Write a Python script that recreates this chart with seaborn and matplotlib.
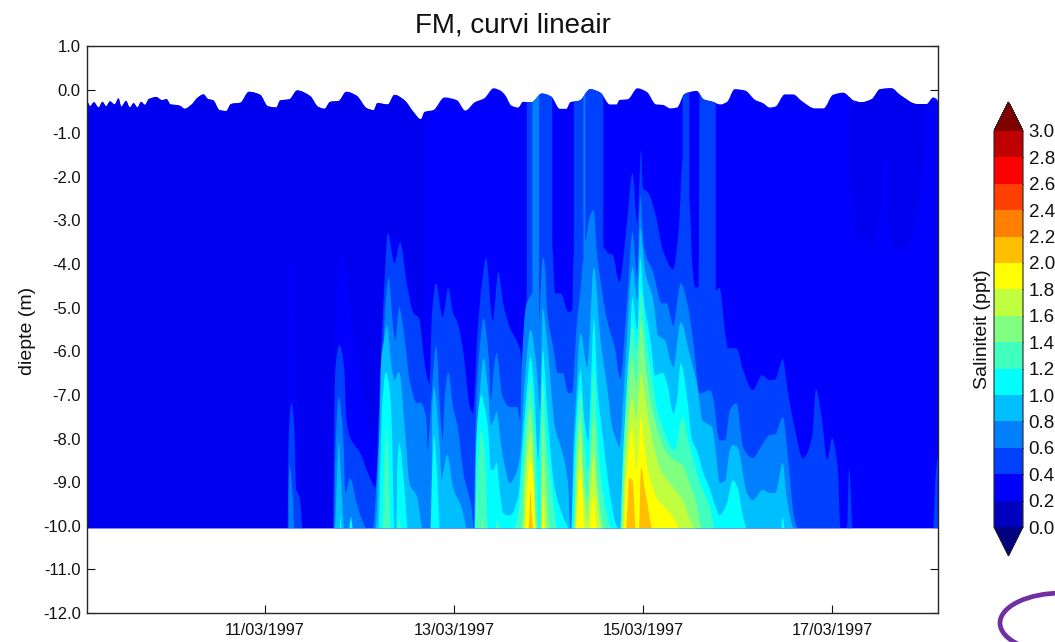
import matplotlib
matplotlib.use("Agg")
import matplotlib.pyplot as plt
from matplotlib.colors import ListedColormap, BoundaryNorm
from matplotlib.colorbar import ColorbarBase
from matplotlib.patches import PathPatch, Ellipse
from matplotlib.path import Path
import seaborn as sns

TITLE = "FM, curvi lineair"
YLABEL = "diepte (m)"
CBLABEL = "Saliniteit (ppt)"
XTICKS = [11, 13, 15, 17]
XLABELS = ["11/03/1997", "13/03/1997", "15/03/1997", "17/03/1997"]
YTICKS = [1, 0, -1, -2, -3, -4, -5, -6, -7, -8, -9, -10, -11, -12]
LEVELS = [0.0, 0.2, 0.4, 0.6, 0.8, 1.0, 1.2, 1.4, 1.6, 1.8, 2.0, 2.2, 2.4, 2.6, 2.8, 3.0]
COLORS = ["#0000BF", "#0000FF", "#0040FF", "#0080FF", "#00BFFF", "#00FFFF", "#40FFBF", "#80FF80",
          "#BFFF40", "#FFFF00", "#FFBF00", "#FF8000", "#FF4000", "#FF0000", "#BF0000"]
UNDER = "#000080"
OVER = "#800000"
BOTTOM = -10.06

surf_t = [9.10, 9.12, 9.15, 9.19, 9.24, 9.28, 9.32, 9.36, 9.41, 9.45, 9.48, 9.53, 9.57, 9.61, 9.65, 9.69, 9.73, 9.77,
          9.85, 9.91, 9.96, 10.00, 10.05, 10.10, 10.15, 10.22, 10.29, 10.35, 10.40, 10.45, 10.52, 10.59, 10.64, 10.74,
          10.83, 10.95, 11.03, 11.12, 11.16, 11.26, 11.34, 11.48, 11.56, 11.63, 11.69, 11.78, 11.86, 11.97, 12.08,
          12.15, 12.19, 12.30, 12.37, 12.48, 12.57, 12.65, 12.69, 12.78, 12.90, 13.03, 13.12, 13.22, 13.32, 13.42,
          13.49, 13.54, 13.61, 13.68, 13.73, 13.82, 13.93, 14.03, 14.12, 14.19, 14.23, 14.33, 14.44, 14.55, 14.65,
          14.72, 14.75, 14.84, 14.94, 15.04, 15.14, 15.21, 15.29, 15.36, 15.44, 15.57, 15.64, 15.74, 15.82, 15.89,
          15.97, 16.08, 16.19, 16.27, 16.34, 16.40, 16.50, 16.59, 16.68, 16.82, 16.91, 17.01, 17.12, 17.23, 17.31,
          17.42, 17.51, 17.63, 17.72, 17.90, 18.00, 18.07, 18.11, 18.13]
surf_d = [-0.35, -0.28, -0.38, -0.29, -0.41, -0.28, -0.38, -0.27, -0.34, -0.20, -0.39, -0.26, -0.41, -0.31, -0.41,
          -0.28, -0.35, -0.22, -0.17, -0.24, -0.22, -0.34, -0.35, -0.37, -0.44, -0.35, -0.18, -0.11, -0.22, -0.24,
          -0.47, -0.49, -0.33, -0.30, -0.05, -0.12, -0.38, -0.41, -0.25, -0.22, -0.02, -0.15, -0.39, -0.44, -0.28,
          -0.26, -0.05, -0.14, -0.43, -0.47, -0.31, -0.34, -0.12, -0.25, -0.51, -0.68, -0.51, -0.47, -0.18, -0.24,
          -0.48, -0.29, -0.20, 0.03, -0.02, -0.12, -0.37, -0.41, -0.28, -0.29, -0.09, -0.16, -0.44, -0.44, -0.29,
          -0.25, 0.01, -0.07, -0.34, -0.34, -0.24, -0.22, 0.03, -0.05, -0.34, -0.35, -0.43, -0.41, -0.10, -0.03,
          -0.22, -0.28, -0.34, -0.28, 0.01, -0.02, -0.24, -0.31, -0.41, -0.39, -0.11, -0.11, -0.26, -0.43, -0.43,
          -0.12, -0.07, -0.25, -0.29, -0.22, 0.01, 0.03, -0.12, -0.33, -0.33, -0.18, -0.22, -0.30]

fresh_t = [9.10, 11.24, 11.25, 11.30, 11.37, 11.72, 11.75, 11.81, 11.93, 12.05, 12.17, 12.26, 12.30, 12.43, 12.60,
           12.68, 12.69, 17.18, 17.18, 17.19, 17.27, 17.33, 17.39, 17.53, 17.55, 17.56, 17.61, 17.72, 17.83, 17.93,
           18.00, 18.01, 18.13]
fresh_d = [-10.06, -10.06, -3.91, -3.91, -10.06, -10.06, -4.83, -3.68, -5.51, -7.12, -8.20, -4.60, -3.29, -3.50, -5.20,
           -6.00, 1.20, 1.20, -2.50, -2.15, -3.60, -3.38, -3.60, -2.46, -0.93, -0.77, -3.38, -3.72, -3.45, -2.53,
           -0.47, 1.20, 1.20]

l04_t = [11.24, 11.25, 11.28, 11.31, 11.33, 11.35, 11.37, 11.40, 11.72, 11.74, 11.76, 11.79, 11.84, 11.86, 11.90, 12.01,
         12.11, 12.17, 12.21, 12.26, 12.30, 12.37, 12.43, 12.50, 12.57, 12.63, 12.69, 12.74, 12.77, 12.81, 12.88, 12.94,
         12.99, 13.04, 13.10, 13.17, 13.20, 13.25, 13.30, 13.34, 13.41, 13.47, 13.52, 13.59, 13.70, 13.73, 13.77, 13.77,
         14.04, 14.04, 14.07, 14.13, 14.21, 14.25, 14.27, 14.27, 14.58, 14.58, 14.63, 14.68, 14.75, 14.83, 14.89, 14.94,
         14.98, 15.00, 15.05, 15.13, 15.21, 15.32, 15.38, 15.42, 15.42, 15.49, 15.49, 15.52, 15.55, 15.59, 15.60, 15.77,
         15.77, 15.81, 15.87, 15.90, 15.99, 16.06, 16.16, 16.26, 16.34, 16.40, 16.48, 16.53, 16.61, 16.69, 16.79, 16.83,
         16.89, 16.95, 17.00, 17.06, 17.09, 17.16, 17.18, 17.22, 18.07, 18.10, 18.13]
l04_d = [-10.06, -8.04, -7.19, -7.69, -9.18, -9.25, -9.41, -10.06, -10.06, -6.66, -6.09, -5.86, -6.43, -7.51, -7.97, -8.34,
         -8.89, -9.12, -7.12, -4.60, -3.29, -3.98, -3.50, -4.44, -5.12, -5.24, -6.27, -6.73, -5.06, -4.44, -5.22, -4.55,
         -5.12, -5.36, -6.04, -7.28, -7.42, -5.52, -4.37, -3.86, -5.29, -4.18, -4.90, -5.45, -5.97, -6.50, -4.83, 1.20,
         1.20, -3.61, -4.67, -4.67, -5.10, -5.06, -3.68, 1.20, 1.20, -3.61, -3.75, -3.79, -4.41, -3.06, -1.91, -3.06,
         -1.39, -2.26, -2.35, -2.83, -3.68, -4.12, -3.15, -1.61, 1.20, 1.20, -2.53, -3.91, -4.53, -4.53, 1.20, 1.20,
         -4.60, -4.55, -5.58, -5.93, -5.93, -6.43, -6.89, -6.55, -6.66, -6.64, -6.18, -6.89, -7.81, -8.45, -7.97, -6.87,
         -7.51, -8.49, -7.99, -8.66, -10.06, -10.06, -8.66, -10.06, -10.06, -8.73, -8.38]

l06_t = [11.25, 11.25, 11.26, 11.29, 11.31, 11.73, 11.74, 11.78, 11.83, 11.85, 11.90, 11.98, 12.08, 12.14, 12.20, 12.24,
         12.27, 12.31, 12.35, 12.38, 12.42, 12.48, 12.53, 12.61, 12.64, 12.71, 12.72, 12.76, 12.79, 12.81, 12.86, 12.88,
         12.90, 12.94, 12.99, 13.04, 13.10, 13.19, 13.21, 13.23, 13.24, 13.28, 13.31, 13.37, 13.39, 13.42, 13.45, 13.51,
         13.56, 13.59, 13.67, 13.70, 13.72, 13.76, 13.80, 13.83, 13.83, 13.90, 13.90, 13.93, 13.94, 13.97, 13.98, 14.05,
         14.10, 14.15, 14.21, 14.25, 14.30, 14.34, 14.37, 14.37, 14.39, 14.39, 14.44, 14.48, 14.51, 14.55, 14.62, 14.67,
         14.70, 14.76, 14.83, 14.89, 14.94, 14.97, 15.01, 15.11, 15.20, 15.25, 15.32, 15.40, 15.47, 15.53, 15.60, 15.71,
         15.74, 15.81, 15.87, 15.92, 15.99, 16.06, 16.16, 16.27, 16.34, 16.40, 16.48, 16.53, 16.60, 16.64]
l06_d = [-10.06, -9.18, -8.61, -9.18, -10.06, -10.06, -8.72, -7.05, -8.03, -9.25, -8.91, -9.57, -10.06, -10.06, -8.27, -6.96,
         -5.06, -4.32, -5.29, -5.74, -4.99, -5.74, -6.66, -7.19, -7.17, -7.58, -8.27, -7.12, -6.20, -5.86, -7.58, -8.03,
         -7.12, -6.48, -7.28, -7.74, -8.79, -9.64, -10.06, -7.58, -6.89, -5.74, -5.24, -6.20, -7.12, -6.43, -6.04, -7.00,
         -7.23, -7.28, -7.28, -7.58, -6.20, -4.99, -4.76, -4.67, 1.20, 1.20, -5.29, -4.07, -3.84, -4.21, -4.90, -5.90,
         -6.50, -6.50, -6.96, -6.96, -5.36, -4.60, -3.91, 1.20, 1.20, -3.45, -2.88, -2.76, -3.68, -4.37, -5.29, -5.67,
         -5.90, -6.62, -4.90, -3.27, -4.30, -2.42, -3.61, -4.21, -4.90, -4.90, -5.40, -4.44, -4.90, -5.74, -6.96, -6.89,
         -7.05, -8.04, -8.04, -7.35, -7.19, -8.20, -8.45, -8.11, -7.92, -7.90, -7.51, -8.34, -9.80, -10.06]

l08_t = [11.74, 11.76, 11.78, 11.80, 11.84, 12.17, 12.21, 12.23, 12.26, 12.29, 12.34, 12.37, 12.42, 12.48, 12.53, 12.61,
         12.67, 12.76, 12.77, 12.79, 12.85, 12.87, 12.89, 12.93, 12.99, 13.08, 13.14, 13.22, 13.24, 13.28, 13.31, 13.36,
         13.39, 13.42, 13.45, 13.50, 13.54, 13.59, 13.65, 13.70, 13.75, 13.81, 13.88, 13.91, 13.94, 13.99, 14.07, 14.15,
         14.21, 14.23, 14.25, 14.26, 14.29, 14.34, 14.41, 14.48, 14.55, 14.63, 14.67, 14.72, 14.75, 14.81, 14.89, 14.94,
         14.97, 15.02, 15.11, 15.16, 15.23, 15.32, 15.40, 15.50, 15.57, 15.63, 15.73, 15.78, 15.81, 15.87, 15.92, 15.95,
         16.00, 16.10, 16.16, 16.27, 16.34, 16.40, 16.48, 16.52, 16.60]
l08_d = [-10.06, -8.96, -8.08, -8.72, -10.06, -10.06, -7.81, -6.20, -5.74, -5.40, -6.36, -6.66, -6.48, -7.74, -9.02, -9.34,
         -10.06, -10.06, -7.35, -6.82, -8.20, -8.96, -8.72, -8.38, -9.12, -9.58, -10.06, -10.06, -8.04, -6.77, -6.16, -6.89,
         -7.69, -7.58, -7.39, -8.15, -8.66, -9.02, -8.84, -8.38, -6.66, -5.51, -6.50, -7.35, -5.01, -5.90, -7.74, -8.34,
         -9.12, -10.04, -10.06, -8.50, -7.12, -5.58, -6.36, -4.07, -5.74, -6.96, -7.69, -8.04, -8.20, -6.43, -4.07, -4.83,
         -3.17, -4.14, -4.83, -5.63, -5.74, -6.36, -5.33, -6.13, -6.73, -7.58, -7.74, -8.49, -9.02, -8.96, -8.27, -8.15,
         -8.20, -9.25, -9.41, -9.18, -9.25, -9.25, -8.56, -9.34, -10.06]

l10_t = [11.79, 11.80, 11.81, 11.89, 11.91, 11.93, 12.20, 12.22, 12.24, 12.28, 12.32, 12.34, 12.37, 12.39, 12.40, 12.42,
         12.48, 12.51, 12.75, 12.77, 12.79, 12.82, 12.85, 13.22, 13.23, 13.25, 13.29, 13.33, 13.36, 13.39, 13.42, 13.45,
         13.49, 13.52, 13.59, 13.68, 13.72, 13.76, 13.81, 13.85, 13.89, 13.91, 13.94, 13.98, 14.03, 14.07, 14.13, 14.17,
         14.22, 14.24, 14.26, 14.29, 14.34, 14.38, 14.42, 14.45, 14.48, 14.52, 14.58, 14.63, 14.67, 14.72, 14.75, 14.76,
         14.79, 14.84, 14.89, 14.94, 14.97, 15.01, 15.08, 15.13, 15.21, 15.26, 15.32, 15.36, 15.40, 15.47, 15.52, 15.57,
         15.63, 15.71, 15.78, 15.81, 15.89, 15.95, 16.00, 16.06, 16.10, 16.46, 16.48, 16.50]
l10_d = [-10.06, -9.76, -10.06, -10.06, -9.80, -10.06, -10.06, -8.66, -7.28, -6.48, -6.89, -7.58, -10.06, -10.06, -8.72, -8.11,
         -9.25, -10.06, -10.06, -8.72, -7.93, -8.72, -10.06, -10.06, -8.50, -7.58, -7.00, -7.35, -7.74, -8.72, -8.72, -8.56,
         -9.30, -9.71, -9.76, -9.34, -8.27, -7.19, -6.13, -6.89, -8.50, -7.81, -5.97, -7.12, -8.50, -9.18, -9.64, -9.87,
         -10.06, -10.06, -8.96, -7.58, -6.43, -7.58, -8.04, -6.66, -5.24, -6.89, -8.04, -8.96, -9.53, -9.99, -10.06, -10.06,
         -8.27, -6.89, -4.76, -5.51, -3.84, -4.83, -5.74, -6.55, -6.50, -6.77, -7.42, -7.12, -6.27, -7.12, -8.04, -8.27,
         -8.73, -9.18, -9.64, -9.76, -9.48, -8.96, -9.12, -9.80, -10.06, -10.06, -9.80, -10.06]

l12_t = [12.24, 12.26, 12.29, 12.31, 12.33, 12.40, 12.42, 12.44, 13.22, 13.25, 13.29, 13.33, 13.36, 13.44, 13.45, 13.49,
         13.64, 13.68, 13.73, 13.77, 13.81, 13.85, 13.89, 13.90, 13.91, 13.92, 13.94, 13.98, 14.04, 14.09, 14.26, 14.29,
         14.34, 14.38, 14.42, 14.45, 14.48, 14.51, 14.56, 14.61, 14.67, 14.76, 14.78, 14.82, 14.86, 14.89, 14.93, 14.95,
         14.98, 15.02, 15.10, 15.15, 15.20, 15.26, 15.33, 15.42, 15.48, 15.50, 15.60, 15.71, 15.76]
l12_d = [-10.06, -8.72, -7.74, -8.72, -10.06, -10.06, -9.83, -10.06, -10.06, -8.72, -7.81, -8.50, -10.06, -10.06, -9.87, -10.06,
         -10.06, -9.71, -8.49, -7.35, -6.66, -7.58, -9.41, -10.06, -10.06, -7.81, -6.66, -8.04, -9.18, -10.06, -10.06, -8.27,
         -6.89, -8.04, -8.73, -7.58, -6.39, -7.58, -8.96, -9.64, -10.06, -10.06, -8.96, -7.12, -5.86, -5.35, -5.97, -5.51,
         -4.60, -5.51, -6.66, -7.35, -7.69, -8.04, -8.27, -7.51, -8.04, -8.20, -9.00, -9.57, -10.06]

l14_t = [13.29, 13.30, 13.32, 13.72, 13.75, 13.78, 13.81, 13.84, 13.88, 13.92, 13.93, 13.94, 13.97, 14.02, 14.27, 14.30,
         14.34, 14.37, 14.41, 14.45, 14.48, 14.51, 14.55, 14.59, 14.77, 14.79, 14.84, 14.89, 14.93, 14.95, 14.98, 15.02,
         15.10, 15.19, 15.26, 15.34, 15.42, 15.50, 15.57, 15.62]
l14_d = [-10.06, -9.83, -10.06, -10.06, -8.50, -7.69, -7.28, -8.04, -10.06, -10.06, -8.50, -7.51, -8.73, -10.06, -10.06, -8.27,
         -7.42, -8.73, -9.41, -8.27, -7.51, -8.73, -9.64, -10.06, -10.06, -8.96, -7.12, -6.13, -6.77, -6.20, -5.29, -6.20,
         -7.35, -8.04, -8.34, -8.50, -8.61, -9.06, -9.53, -10.06]

l16_t = [13.73, 13.76, 13.79, 13.81, 13.84, 13.87, 13.93, 13.94, 13.96, 13.98, 14.28, 14.31, 14.34, 14.37, 14.41, 14.44,
         14.48, 14.51, 14.56, 14.78, 14.81, 14.85, 14.89, 14.93, 14.95, 14.98, 15.02, 15.10, 15.19, 15.26, 15.34, 15.42,
         15.50, 15.55]
l16_d = [-10.06, -8.73, -8.15, -7.81, -8.73, -10.06, -10.06, -8.34, -9.18, -10.06, -10.06, -8.73, -7.88, -9.18, -9.87, -9.18,
         -8.38, -9.18, -10.06, -10.06, -8.73, -7.58, -7.05, -7.58, -7.12, -6.50, -7.00, -8.04, -8.73, -8.96, -9.18, -9.41,
         -9.87, -10.06]

l18_t = [13.75, 13.77, 13.81, 13.84, 13.86, 13.93, 13.94, 13.96, 14.29, 14.31, 14.33, 14.36, 14.38, 14.43, 14.46, 14.48,
         14.51, 14.79, 14.82, 14.85, 14.89, 14.93, 14.95, 14.98, 15.02, 15.08, 15.16, 15.26, 15.34, 15.39]
l18_d = [-10.06, -9.18, -8.43, -8.96, -10.06, -10.06, -9.25, -10.06, -10.06, -9.18, -8.66, -9.18, -10.06, -10.06, -9.41, -9.30,
         -10.06, -10.06, -8.96, -8.27, -7.76, -8.73, -8.27, -7.51, -8.27, -8.96, -9.41, -9.64, -9.87, -10.06]

l20_t = [13.79, 13.80, 13.81, 13.82, 13.84, 14.82, 14.84, 14.85, 14.89, 14.91, 14.92, 14.96, 14.97, 14.98, 15.02, 15.05, 15.10]
l20_d = [-10.06, -9.64, -9.14, -9.64, -10.06, -10.06, -9.41, -8.91, -8.96, -9.64, -10.06, -10.06, -9.18, -8.66, -9.18, -9.53, -10.06]

contours = [(l04_t, l04_d, 2), (l06_t, l06_d, 3), (l08_t, l08_d, 4), (l10_t, l10_d, 5),
            (l12_t, l12_d, 6), (l14_t, l14_d, 7), (l16_t, l16_d, 8), (l18_t, l18_d, 9), (l20_t, l20_d, 10)]


def slopes(x, y):
    """Tangents for a curve that never overshoots the read values."""
    n = len(x)
    m = [0.0] * n
    for i in range(1, n - 1):
        h0, h1 = x[i] - x[i - 1], x[i + 1] - x[i]
        if h0 <= 0 or h1 <= 0:
            continue
        d0, d1 = (y[i] - y[i - 1]) / h0, (y[i + 1] - y[i]) / h1
        if d0 * d1 > 0:
            w0, w1 = 2 * h1 + h0, h1 + 2 * h0
            m[i] = (w0 + w1) / (w0 / d0 + w1 / d1)
    return m


def area(x, y, base, color):
    """A curved filled area in data coordinates, from the read values down to base."""
    m = slopes(x, y)
    verts = [(x[0], base), (x[0], y[0])]
    codes = [Path.MOVETO, Path.LINETO]
    for i in range(len(x) - 1):
        h = (x[i + 1] - x[i]) / 3
        verts += [(x[i] + h, y[i] + m[i] * h), (x[i + 1] - h, y[i + 1] - m[i + 1] * h), (x[i + 1], y[i + 1])]
        codes += [Path.CURVE4] * 3
    verts += [(x[-1], base), (x[0], base)]
    codes += [Path.LINETO, Path.CLOSEPOLY]
    return PathPatch(Path(verts, codes), facecolor=color, edgecolor="none", lw=0)


sns.set_theme(style="ticks", rc={"axes.edgecolor": "#262626", "xtick.color": "#111111", "ytick.color": "#111111",
                                 "text.color": "#111111", "axes.labelcolor": "#111111"})
plt.rcParams["font.family"] = ["Liberation Sans", "DejaVu Sans"]
palette = sns.color_palette(COLORS)

W, H = 1055, 642
fig = plt.figure(figsize=(W / 100, H / 100), dpi=100)
ax = fig.add_axes([87 / W, 1 - 613 / H, (938 - 87) / W, (613 - 46) / H])

water = area(surf_t, surf_d, BOTTOM, palette[1])
ax.add_patch(water)
layer = area(fresh_t, fresh_d, 1.5, "#0000F0")
ax.add_patch(layer)
layer.set_clip_path(water)
for t, d, idx in contours:
    layer = area(t, d, BOTTOM, palette[idx])
    ax.add_patch(layer)
    layer.set_clip_path(water)

ax.set_xlim(9.117, 18.122)
ax.set_ylim(-12, 1)
ax.set_xticks(XTICKS, XLABELS)
ax.set_yticks(YTICKS, [f"{v:.1f}" for v in YTICKS])
ax.tick_params(axis="both", direction="in", length=6, width=0.8)
ax.tick_params(axis="y", right=True, labelsize=12, pad=4.5)
ax.tick_params(axis="x", labelsize=11.7, pad=7)
for s in ax.spines.values():
    s.set_linewidth(1.0)
ax.set_ylabel(YLABEL, fontsize=14, labelpad=5, y=0.497)
ax.set_title(TITLE, fontsize=20, pad=10, color="#111111")

cax = fig.add_axes([994 / W, 1 - 556 / H, 29 / W, (556 - 102) / H])
cmap = ListedColormap(palette).with_extremes(under=UNDER, over=OVER)
cb = ColorbarBase(cax, cmap=cmap, norm=BoundaryNorm(LEVELS, cmap.N), extend="both", extendfrac=0.073,
                  ticks=LEVELS, spacing="uniform", drawedges=False)
cb.set_ticklabels([f"{v:.1f}" for v in LEVELS])
cb.ax.tick_params(direction="in", length=4, width=0.8, labelsize=13.5, pad=4, left=True, right=True)
cb.outline.set_linewidth(0.8)
cb.set_label(CBLABEL, fontsize=14, labelpad=2)
cb.ax.yaxis.set_label_position("left")

fig.add_artist(Ellipse((1062 / W, 1 - 623 / H), 124 / W, 60 / H, transform=fig.transFigure,
                       fill=False, edgecolor="#7030A0", lw=3.4))

fig.savefig("out.png", dpi=100)
